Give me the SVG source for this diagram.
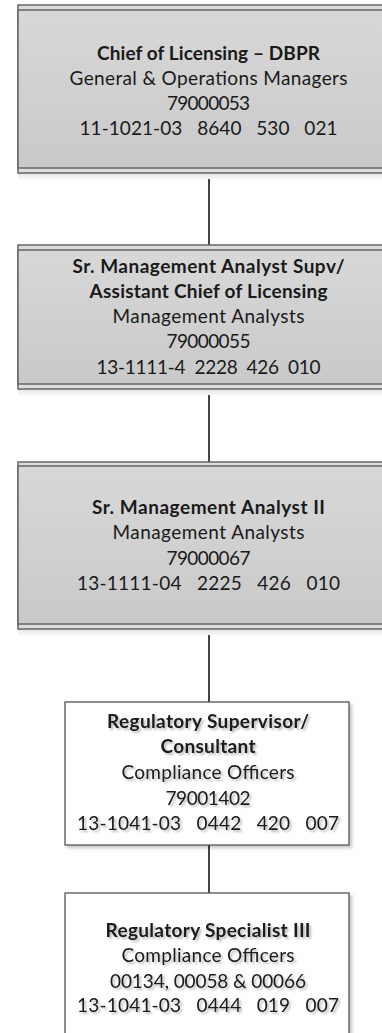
<svg xmlns="http://www.w3.org/2000/svg" width="382" height="1033" viewBox="0 0 382 1033">
  <style>
    .t { font-family: Lato, "Open Sans", "Liberation Sans", sans-serif; font-size: 19px; fill: #1a1a1a; text-anchor: middle; }
    .b { font-weight: bold; }
    .outer { fill: #dcdcdc; stroke: #666; stroke-width: 1.5; }
    .inner { fill: url(#greyFill); stroke: #666; stroke-width: 1.5; }
    .under { fill: url(#underShade); }
    .card { fill: #ffffff; stroke: #555; stroke-width: 1.3; filter: url(#cardShadow); }
    .soft { filter: url(#textShadow); }
    .link { stroke: #444; stroke-width: 2; fill: none; }
  </style>
  <defs>
    <linearGradient id="greyFill" x1="0" y1="0" x2="0" y2="1">
      <stop offset="0" stop-color="#d8d8d8"/>
      <stop offset="1" stop-color="#c9c9c9"/>
    </linearGradient>
    <linearGradient id="underShade" x1="0" y1="0" x2="0" y2="1">
      <stop offset="0" stop-color="#e4e4e4"/>
      <stop offset="1" stop-color="#f8f8f8"/>
    </linearGradient>
    <filter id="cardShadow" x="-5%" y="-5%" width="115%" height="115%">
      <feDropShadow dx="2.5" dy="2.5" stdDeviation="1.5" flood-color="#000" flood-opacity="0.22"/>
    </filter>
    <filter id="textShadow" x="-5%" y="-20%" width="115%" height="160%">
      <feDropShadow dx="2" dy="2" stdDeviation="1" flood-color="#000" flood-opacity="0.28"/>
    </filter>
  </defs>

  <!-- reporting lines -->
  <g id="connectors">
    <line class="link" x1="209" y1="173" x2="209" y2="245"/>
    <line class="link" x1="209" y1="389" x2="209" y2="462"/>
    <line class="link" x1="209" y1="629" x2="209" y2="702"/>
    <line class="link" x1="209" y1="845" x2="209" y2="893"/>
  </g>

  <g id="chief-of-licensing">
    <rect class="under" x="18" y="173" width="382" height="6"/>
    <rect class="outer" x="18" y="5" width="382" height="168"/>
    <rect class="inner" x="18" y="10" width="382" height="158"/>
    <text class="t b" x="208.5" y="60" textLength="223" lengthAdjust="spacing">Chief of Licensing – DBPR</text>
    <text class="t" x="208.5" y="85" textLength="278" lengthAdjust="spacing">General &amp; Operations Managers</text>
    <text class="t" x="208.5" y="110" textLength="83" lengthAdjust="spacing">79000053</text>
    <text class="t" x="208.5" y="135" textLength="258" lengthAdjust="spacing" xml:space="preserve">11-1021-03   8640   530   021</text>
  </g>

  <g id="asst-chief-of-licensing">
    <rect class="under" x="18" y="389" width="382" height="6"/>
    <rect class="outer" x="18" y="245" width="382" height="144"/>
    <rect class="inner" x="18" y="250" width="382" height="134"/>
    <text class="t b" x="208.5" y="273" textLength="272" lengthAdjust="spacing">Sr. Management Analyst Supv/</text>
    <text class="t b" x="208.5" y="298" textLength="238" lengthAdjust="spacing">Assistant Chief of Licensing</text>
    <text class="t" x="208.5" y="323" textLength="192" lengthAdjust="spacing">Management Analysts</text>
    <text class="t" x="208.5" y="348" textLength="84" lengthAdjust="spacing">79000055</text>
    <text class="t" x="208.5" y="374" textLength="224" lengthAdjust="spacing" xml:space="preserve">13-1111-4  2228  426  010</text>
  </g>

  <g id="sr-management-analyst-ii">
    <rect class="under" x="18" y="629" width="382" height="6"/>
    <rect class="outer" x="18" y="462" width="382" height="167"/>
    <rect class="inner" x="18" y="466" width="382" height="158"/>
    <text class="t b" x="208.5" y="514" textLength="233" lengthAdjust="spacing">Sr. Management Analyst II</text>
    <text class="t" x="208.5" y="539" textLength="192" lengthAdjust="spacing">Management Analysts</text>
    <text class="t" x="208.5" y="565" textLength="84" lengthAdjust="spacing">79000067</text>
    <text class="t" x="208.5" y="590" textLength="263" lengthAdjust="spacing" xml:space="preserve">13-1111-04   2225   426   010</text>
  </g>

  <g id="regulatory-supervisor">
    <rect class="card" x="65" y="702" width="284" height="143"/>
    <g class="soft">
      <text class="t b" x="208" y="728" textLength="202" lengthAdjust="spacing">Regulatory Supervisor/</text>
      <text class="t b" x="208" y="753" textLength="95" lengthAdjust="spacing">Consultant</text>
      <text class="t" x="208" y="779" textLength="173" lengthAdjust="spacing">Compliance Officers</text>
      <text class="t" x="208" y="805" textLength="85" lengthAdjust="spacing">79001402</text>
      <text class="t" x="208" y="830" textLength="262" lengthAdjust="spacing" xml:space="preserve">13-1041-03   0442   420   007</text>
    </g>
  </g>

  <g id="regulatory-specialist-iii">
    <rect class="card" x="65" y="893" width="284" height="150"/>
    <g class="soft">
      <text class="t b" x="208" y="937" textLength="205" lengthAdjust="spacing">Regulatory Specialist III</text>
      <text class="t" x="208" y="962" textLength="173" lengthAdjust="spacing">Compliance Officers</text>
      <text class="t" x="208" y="988" textLength="196" lengthAdjust="spacing">00134, 00058 &amp; 00066</text>
      <text class="t" x="208" y="1012" textLength="262" lengthAdjust="spacing" xml:space="preserve">13-1041-03   0444   019   007</text>
    </g>
  </g>
</svg>
